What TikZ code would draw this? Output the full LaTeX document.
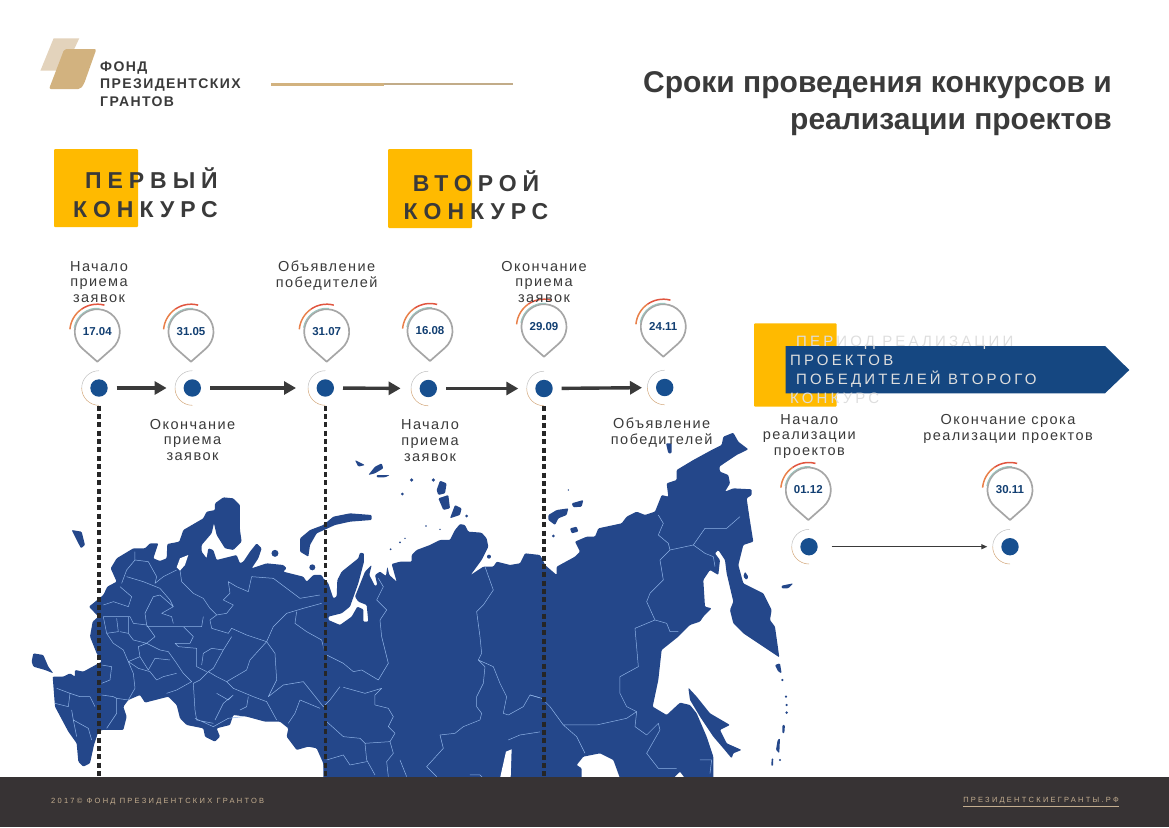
\documentclass[tikz,border=0pt]{standalone}
\usepackage{fontspec}
\usetikzlibrary{arrows.meta}
\setmainfont{Liberation Sans}
\newfontfamily\labelfont[LetterSpace=10]{Liberation Sans}
\newfontfamily\headfont[LetterSpace=26]{Liberation Sans}
\newfontfamily\bandfont[LetterSpace=21]{Liberation Sans}
\newfontfamily\footfont[LetterSpace=30]{Liberation Sans}
\definecolor{mapblue}{HTML}{24478A}
\definecolor{borderblue}{HTML}{8DB2E6}
\definecolor{dotblue}{HTML}{174F8F}
\definecolor{gold}{HTML}{FFBA00}
\definecolor{darkfoot}{HTML}{373334}
\definecolor{inktext}{HTML}{3A3A3A}
\definecolor{logolight}{HTML}{E3D3BC}
\definecolor{logodark}{HTML}{D2B27F}
\definecolor{footsand}{HTML}{C4AE90}
\definecolor{arcred}{HTML}{E0553F}
\definecolor{arcorange}{HTML}{E8804A}
\definecolor{arcteal}{HTML}{9CC3BC}
\begin{document}
\begin{tikzpicture}[
    x=1pt, y=-1pt,
    westpart/.style={shift={(20,480)}, x=.3333pt, y=-.3333pt},
    midpart/.style={shift={(300,450)}, x=.3333pt, y=-.3333pt},
    eastpart/.style={shift={(530,420)}, x=.3333pt, y=-.3333pt},
    land/.style={fill=mapblue, draw=none, rounded corners=1pt},
    sea/.style={fill=white, draw=none},
    regionline/.style={draw=borderblue, line width=.5pt, line join=round},
    label/.style={font=\labelfont\fontsize{14.5}{15.6}\selectfont, text=inktext, align=center, inner sep=0pt},
    head/.style={font=\headfont\bfseries\fontsize{23}{28.5}\selectfont, text=inktext, inner sep=0pt},
    goldbox/.style={fill=gold, rounded corners=1pt},
    dot/.style={circle, fill=dotblue, minimum size=17.4pt, inner sep=0pt, outer sep=9pt},
    flow/.style={draw=inktext, line width=3.4pt, -{Triangle[length=12pt,width=13pt]}},
    thinflow/.style={draw=inktext, line width=1.1pt, -{Triangle[length=6pt,width=5pt]}},
    dotline/.style={draw=black!85, line width=3.6pt, dash pattern=on 5pt off 3.3pt},
    datepin/.pic={
        \draw[draw=black!35, line width=1.7pt, fill=white, line join=round]
            (-48.6:22.5pt) arc[start angle=-48.6, end angle=228.6, radius=22.5pt] -- (0pt,-30pt) -- cycle;
        \draw[draw=arcteal, line width=1pt] (85:23.5pt) arc[start angle=85, end angle=170, radius=23.5pt];
        \draw[draw=arcred, line width=1.5pt] (75:27.5pt) arc[start angle=75, end angle=125, radius=27.5pt];
        \draw[draw=arcorange, line width=1.5pt] (125:27.5pt) arc[start angle=125, end angle=175, radius=27.5pt];
        \node[font=\bfseries\fontsize{11.5}{12}\selectfont, text=dotblue!80!black, inner sep=0pt] (date) at (0pt,0pt) {#1};
    },
    ring/.pic={
        \draw[draw=black!25, line width=.5pt] (90:17.3pt) arc[start angle=90, end angle=180, radius=17.3pt];
        \draw[draw=brown!70, line width=.5pt] (180:17.3pt) arc[start angle=180, end angle=270, radius=17.3pt];
    }
]
\useasboundingbox (0,0) rectangle (1169,827);

% ---- map ----
\begin{scope}[westpart]
\fill[land] (245,545) -- (230,520) -- (210,470) -- (218,425) -- (235,410) -- (207,380) -- (238,355) -- (250,345) -- (262,320) -- (290,305) -- (272,265) -- (290,235) -- (340,205) -- (375,205) -- (390,190) -- (415,190) -- (400,235) -- (420,243) -- (440,235) -- (442,192) -- (478,185) -- (490,150) -- (550,115) -- (560,95) -- (585,90) -- (585,70) -- (610,52) -- (640,55) -- (660,75) -- (660,150) -- (665,185) -- (640,210) -- (615,205) -- (590,165) -- (582,130) -- (575,160) -- (545,195) -- (545,215) -- (560,235) -- (565,205) -- (580,210) -- (590,240) -- (650,225) -- (660,250) -- (670,245) -- (690,215) -- (710,190) -- (725,205) -- (715,235) -- (695,265) -- (740,250) -- (790,255) -- (800,265) -- (790,275) -- (850,290) -- (860,305) -- (880,285) -- (905,285) -- (915,305) -- (925,320) -- (925,850) -- (915,892) -- (910,850) -- (890,805) -- (865,800) -- (830,810) -- (800,770) -- (805,745) -- (780,725) -- (735,725) -- (680,710) -- (640,705) -- (630,735) -- (590,745) -- (600,770) -- (585,785) -- (555,770) -- (550,745) -- (500,735) -- (480,715) -- (470,675) -- (445,650) -- (375,668) -- (360,645) -- (325,660) -- (310,680) -- (320,710) -- (310,750) -- (245,750) -- (235,755) -- (222,795) -- (210,850) -- (190,860) -- (175,845) -- (170,790) -- (145,755) -- (105,680) -- (98,590) -- (130,590) -- (150,580) -- (165,590) -- (165,570) -- (190,575) -- cycle;
\fill[land] (40,520) -- (70,525) -- (85,560) -- (100,580) -- (75,570) -- (40,560) -- (35,545) -- cycle;
\fill[land] (155,150) -- (185,155) -- (195,195) -- (183,205) -- (170,180) -- cycle;
\fill[land] (765,220) circle[radius=3.5pt];
\fill[land] (877,262) circle[radius=3pt];
\fill[sea] (470,262) -- (480,235) -- (505,225) -- (495,255) -- (480,272) -- cycle;
\draw[regionline] (345,215) -- (345,240) -- (320,270) -- (305,310)
    (345,240) -- (385,245) -- (410,290) -- (405,310) -- (430,290) -- (470,270)
    (320,290) -- (370,305) -- (420,325) -- (450,360) -- (460,380)
    (480,270) -- (485,305) -- (520,340) -- (550,355) -- (570,385) -- (590,405) -- (620,400) -- (640,375) -- (610,360) -- (630,340) -- (625,305) -- (650,320) -- (685,335) -- (695,290) -- (760,295) -- (840,355) -- (900,345)
    (905,370) -- (850,385) -- (800,400) -- (760,440) -- (740,485) -- (690,540) -- (680,570) -- (620,605) -- (590,590) -- (565,575)
    (740,485) -- (765,520) -- (770,600) -- (745,650) -- (790,615) -- (850,605) -- (910,680)
    (620,605) -- (640,625) -- (700,650) -- (740,665) -- (770,720)
    (685,650) -- (680,680) -- (660,690)
    (840,660) -- (900,685) (840,660) -- (825,700) -- (805,730)
    (830,395) -- (825,430) -- (860,455) -- (905,480) -- (915,520)
    (575,445) -- (625,460) -- (635,445) -- (680,465) -- (740,485)
    (575,445) -- (570,420) -- (590,405)
    (635,470) -- (610,510) -- (580,565) -- (565,575) -- (540,600) -- (520,610) -- (525,690) -- (530,720) -- (580,730)
    (545,555) -- (550,520) -- (575,505) -- (610,510)
    (490,440) -- (545,440) -- (550,410)
    (380,440) -- (490,440) -- (520,470) -- (510,490) -- (465,490) -- (475,500) -- (530,505) -- (530,560) -- (560,575)
    (250,375) -- (280,365) -- (325,380) -- (335,350) -- (300,320)
    (250,410) -- (330,410) -- (340,430) -- (380,435) -- (375,400) -- (400,350) -- (420,345) -- (460,380) -- (425,400) -- (455,410) -- (460,430)
    (250,410) -- (260,460) -- (295,455) -- (290,415)
    (325,410) -- (325,460) -- (300,455)
    (260,460) -- (280,490) -- (310,510) -- (325,545) -- (360,530) -- (355,500) -- (380,490) -- (405,470) -- (380,435)
    (325,460) -- (340,480) -- (380,490) -- (420,510) -- (445,515) -- (470,550) -- (490,580) -- (515,605) -- (470,630) -- (440,640)
    (325,545) -- (355,565) -- (390,575) -- (410,600) -- (430,590) -- (470,580)
    (360,530) -- (385,570) -- (405,535) -- (450,540)
    (245,555) -- (275,560) -- (270,600) -- (245,610)
    (245,645) -- (280,650) -- (290,655) -- (325,660) -- (345,625) -- (340,580) -- (325,545)
    (290,655) -- (290,700) -- (260,745)
    (110,625) -- (150,640) -- (145,680) -- (105,670)
    (150,640) -- (180,650) -- (210,650) -- (225,680)
    (155,690) -- (160,720) -- (205,745) -- (215,780) (160,720) -- (170,770)
    (525,715) -- (580,740) -- (625,715) -- (670,710)
    (590,640) -- (625,660) -- (640,645) -- (610,670) -- (585,720);
\end{scope}

\begin{scope}[midpart]
\fill[land] (70,385) -- (85,400) -- (100,445) -- (110,440) -- (112,390) -- (125,365) -- (150,345) -- (175,325) -- (180,308) -- (192,310) -- (192,335) -- (175,400) -- (150,470) -- (125,490) -- (85,500) -- (85,510) -- (120,525) -- (155,500) -- (172,470) -- (190,478) -- (190,515) -- (205,515) -- (200,465) -- (175,455) -- (165,440) -- (195,365) -- (215,345) -- (208,375) -- (225,408) -- (232,405) -- (225,375) -- (240,365) -- (258,378) -- (262,350) -- (268,375) -- (290,395) -- (275,342) -- (300,335) -- (335,335) -- (335,315) -- (350,300) -- (390,285) -- (420,270) -- (450,270) -- (465,240) -- (480,222) -- (495,225) -- (505,245) -- (545,248) -- (560,265) -- (565,290) -- (545,330) -- (512,375) -- (550,350) -- (580,350) -- (590,335) -- (630,345) -- (660,340) -- (675,310) -- (720,315) -- (735,345) -- (735,985) -- (70,985) -- cycle;
\fill[land] (0,265) -- (30,240) -- (70,225) -- (100,200) -- (150,190) -- (215,195) -- (215,210) -- (150,215) -- (105,225) -- (50,250) -- (30,285) -- (25,320) -- (0,305) -- cycle;
\fill[land] (165,30) -- (195,45) -- (175,50) -- cycle;
\fill[land] (205,75) -- (225,50) -- (245,40) -- (250,55) -- (225,70) -- cycle;
\fill[land] (230,75) -- (270,75) -- (255,82) -- (230,82) -- cycle;
\fill[land] (410,120) -- (420,92) -- (440,100) -- (435,130) -- (415,135) -- cycle;
\fill[land] (415,145) -- (445,135) -- (450,175) -- (430,180) -- cycle;
\fill[land] (450,205) -- (465,165) -- (485,175) -- (480,195) -- cycle;
\fill[land] (335,90) circle[radius=1.8pt] (400,90) circle[radius=1.8pt] (307,132) circle[radius=1.5pt] (500,198) circle[radius=1.5pt] (567,320) circle[radius=2pt] (378,228) circle[radius=.8pt] (420,238) circle[radius=.8pt] (300,277) circle[radius=1pt] (315,265) circle[radius=.8pt] (272,298) circle[radius=1pt];
\fill[sea] (600,985) -- (618,905) -- (635,898) -- (632,985) -- cycle;
\draw[regionline] (80,615) -- (130,640) -- (160,665) -- (185,660) -- (235,690) -- (265,640) -- (245,560) -- (240,510) -- (260,480) -- (230,450) -- (250,410) -- (235,385)
    (130,712) -- (195,730) -- (245,715) -- (225,735) -- (225,765) -- (265,775) -- (280,800) -- (265,830) -- (285,850) -- (270,875) -- (195,880) -- (180,865) -- (130,860) -- (80,815)
    (70,770) -- (90,750) -- (120,710)
    (195,880) -- (200,930) -- (225,975) (80,930) -- (130,915) -- (150,945) -- (200,935)
    (270,875) -- (280,910) -- (260,935) -- (265,980) (300,930) -- (320,980)
    (555,350) -- (580,420) -- (550,465) -- (530,485) -- (540,560) -- (545,610) -- (535,630) -- (555,650) -- (550,700) -- (530,740) -- (530,770) -- (545,790) -- (540,810) -- (490,830) -- (465,850) -- (420,855) -- (430,895) -- (380,950) -- (410,980)
    (535,630) -- (580,650) -- (600,700) -- (620,740) -- (610,790) -- (625,795) -- (670,770) -- (690,735) -- (725,745)
    (625,870) -- (660,855) -- (725,845)
    (510,975) -- (540,975) -- (550,985);
\end{scope}

\begin{scope}[eastpart]
\fill[land] (30,405) -- (45,435) -- (80,465) -- (80,440) -- (135,410) -- (150,395) -- (135,365) -- (170,350) -- (195,350) -- (205,325) -- (275,310) -- (290,290) -- (320,275) -- (345,285) -- (375,275) -- (395,225) -- (415,230) -- (410,190) -- (440,180) -- (440,150) -- (490,120) -- (545,90) -- (575,75) -- (580,50) -- (610,38) -- (625,65) -- (655,88) -- (620,105) -- (590,125) -- (568,140) -- (570,155) -- (595,165) -- (600,190) -- (585,215) -- (610,205) -- (665,208) -- (665,225) -- (650,235) -- (658,290) -- (670,365) -- (640,375) -- (625,435) -- (640,490) -- (700,520) -- (725,570) -- (720,600) -- (735,620) -- (748,712) -- (700,680) -- (640,640) -- (610,610) -- (600,570) -- (610,545) -- (590,460) -- (585,420) -- (565,390) -- (555,400) -- (570,420) -- (565,465) -- (540,450) -- (520,480) -- (525,560) -- (545,565) -- (520,590) -- (510,605) -- (480,615) -- (445,650) -- (395,690) -- (385,780) -- (368,860) -- (410,885) -- (450,848) -- (480,855) -- (500,880) -- (530,950) -- (550,1010) -- (550,1075) -- (465,1075) -- (450,1055) -- (430,1075) -- (270,1075) -- (250,1020) -- (210,1000) -- (160,1010) -- (140,1035) -- (155,1045) -- (155,1075) -- (30,1075) -- cycle;
\fill[land] (55,285) -- (80,270) -- (115,265) -- (110,285) -- (85,295) -- (75,315) -- (55,300) -- cycle;
\fill[land] (125,250) -- (160,240) -- (155,260) -- (130,262) -- cycle;
\fill[land] (120,325) -- (140,320) -- (145,335) -- (125,340) -- cycle;
\fill[land] (70,348) circle[radius=1.5pt] (115,210) circle[radius=.8pt];
\fill[land] (408,70) -- (425,70) -- (425,100) -- (415,100) -- cycle;
\fill[land] (475,803) -- (500,830) -- (540,880) -- (600,915) -- (570,930) -- (590,970) -- (635,990) -- (610,1000) -- (605,1015) -- (580,985) -- (550,950) -- (510,890) -- (480,840) -- cycle;
\fill[land] (645,455) -- (655,470) -- (650,480) -- (640,470) -- cycle;
\fill[land] (755,497) -- (790,490) -- (775,505) -- (755,505) -- cycle;
\fill[land] (735,735) -- (750,730) -- (755,760) -- (745,755) -- cycle;
\fill[land] (757,915) -- (765,915) -- (763,940) -- (757,940) -- cycle;
\fill[land] (743,960) -- (750,955) -- (748,1000) -- (738,990) -- cycle;
\fill[land] (725,1015) -- (730,1015) -- (729,1038) -- (724,1038) -- cycle;
\fill[land] (757,780) circle[radius=1.2pt] (768,830) circle[radius=1.2pt] (770,855) circle[radius=1.2pt] (770,878) circle[radius=1.4pt] (750,1020) circle[radius=1.2pt];
\draw[regionline] (385,285) -- (400,310) -- (385,345) -- (415,370) -- (420,390) -- (490,375) -- (525,325) -- (590,325) -- (630,290)
    (490,375) -- (525,400) -- (550,410) -- (555,440)
    (420,390) -- (390,420) -- (400,480) -- (360,520) -- (350,545) -- (375,600) -- (410,610) -- (420,635) -- (445,635)
    (375,600) -- (315,625) -- (325,740) -- (270,770) -- (270,820) -- (290,860) -- (320,875) -- (290,895) -- (200,915) -- (100,915) -- (60,860) -- (35,835) -- (0,825)
    (320,875) -- (315,920) -- (350,945) -- (385,910) -- (390,930) -- (350,1000) -- (385,1045) -- (440,1045)
    (100,915) -- (140,950) -- (165,1000)
    (510,1020) -- (545,1020) -- (540,1060);
\end{scope}

% ---- footer ----
\fill[darkfoot] (0,777) rectangle (1169,827);
\node[font=\footfont\fontsize{7.5}{8}\selectfont, text=footsand, anchor=west, inner sep=0pt] (footleft) at (51,801.5) {2017© ФОНД ПРЕЗИДЕНТСКИХ ГРАНТОВ};
\node[font=\footfont\fontsize{7.5}{8}\selectfont, text=footsand, anchor=east, inner sep=0pt] (footright) at (1119,802) {\underline{ПРЕЗИДЕНТСКИЕГРАНТЫ.РФ}};

% ---- header ----
\fill[logolight] (53.6,38.3) -- (79.3,38.3) -- (64,70.7) -- (40.4,70.7) -- cycle;
\fill[logodark, rounded corners=2pt] (64.3,49) -- (96.4,49) -- (84,84) -- (80.4,89) -- (49,89) -- cycle;
\node[font=\labelfont\bfseries\fontsize{14}{17.6}\selectfont, text=inktext, align=left, anchor=west, inner sep=0pt] (logotext) at (100,84) {ФОНД\\ПРЕЗИДЕНТСКИХ\\ГРАНТОВ};
\fill[draw=none, fill=logodark] (271,82.5) rectangle (384,85.5);
\fill[draw=none, fill=logodark!85!black!80] (384,83.3) rectangle (513,84.8);
\node[font=\bfseries\fontsize{30}{37}\selectfont, text=inktext, align=right, anchor=north east, inner sep=0pt] (title) at (1112,71) {Сроки проведения конкурсов и\\реализации проектов};

% ---- contest titles ----
\fill[goldbox] (54,149) rectangle (138,227);
\fill[goldbox] (388,149) rectangle (472,228);
\node[head, align=right, anchor=east] (firstround) at (218,192.5) {ПЕРВЫЙ\\КОНКУРС};
\node[head, align=center] (secondround) at (476,195) {ВТОРОЙ\\КОНКУРС};

% ---- timeline ----
\node[dot] (d1) at (99,388) {};
\node[dot] (d2) at (192.3,388) {};
\node[dot] (d3) at (325.3,388) {};
\node[dot] (d4) at (428.3,388.5) {};
\node[dot] (d5) at (544,388.5) {};
\node[dot] (d6) at (664.7,387.5) {};
\node[dot] (d7) at (809,546.7) {};
\node[dot] (d8) at (1010,546.7) {};
\pic at (d1) {ring};
\pic at (d2) {ring};
\pic at (d3) {ring};
\pic at (d4) {ring};
\pic at (d5) {ring};
\pic at (d6) {ring};
\pic at (d7) {ring};
\pic at (d8) {ring};

\draw[flow, shorten >=8pt] (d1) -- (d2);
\draw[flow, shorten >=11.6pt] (d2) -- (d3);
\draw[flow, shorten >=10pt] (d3) -- (d4);
\draw[flow, shorten >=8pt] (d4) -- (d5);
\draw[flow, shorten >=5pt] (d5) -- (d6);
\draw[thinflow, shorten <=5pt, shorten >=5pt] (d7) -- (d8);

\coordinate (f1) at (99,777);
\coordinate (f3) at (325.3,777);
\coordinate (f5) at (544,777);
\draw[dotline] (d1) -- (f1);
\draw[dotline] (d3) -- (f3);
\draw[dotline] (d5) -- (f5);

\pic (p1) at (97.3,331.7) {datepin={17.04}};
\pic (p2) at (191,331.7) {datepin={31.05}};
\pic (p3) at (326.7,331.7) {datepin={31.07}};
\pic (p4) at (430,331) {datepin={16.08}};
\pic (p5) at (544,326.7) {datepin={29.09}};
\pic (p6) at (663.3,326.7) {datepin={24.11}};
\pic (p7) at (808.3,490) {datepin={01.12}};
\pic (p8) at (1010,490) {datepin={30.11}};

% ---- labels ----
\node[label] (l1) at (99,282) {Начало\\приема\\заявок};
\node[label] (l2) at (192.5,440) {Окончание\\приема\\заявок};
\node[label] (l3) at (326.6,275.5) {Объявление\\победителей};
\node[label] (l4) at (430,440.5) {Начало\\приема\\заявок};
\node[label] (l5) at (544,282) {Окончание\\приема\\заявок};
\node[label] (l6) at (661.7,432.5) {Объявление\\победителей};
\node[label] (l7) at (809.3,436.5) {Начало\\реализации\\проектов};
\node[label] (l8) at (1008,429) {Окончание срока\\реализации проектов};

% ---- implementation band ----
\fill[goldbox] (754,323.3) rectangle (836.7,406.7);
\fill[fill=dotblue!90!black] (785.7,346) -- (1105,346) -- (1129.3,370) -- (1105,393.3) -- (785.7,393.3) -- cycle;
\node[font=\bandfont\fontsize{15}{18.9}\selectfont, text=black!13, align=left, anchor=west, inner sep=0pt] (bandtext) at (790,370) {\hspace*{6pt}ПЕРИОД РЕАЛИЗАЦИИ\\ПРОЕКТОВ\\\hspace*{6pt}ПОБЕДИТЕЛЕЙ ВТОРОГО\\КОНКУРС};

\end{tikzpicture}
\end{document}
